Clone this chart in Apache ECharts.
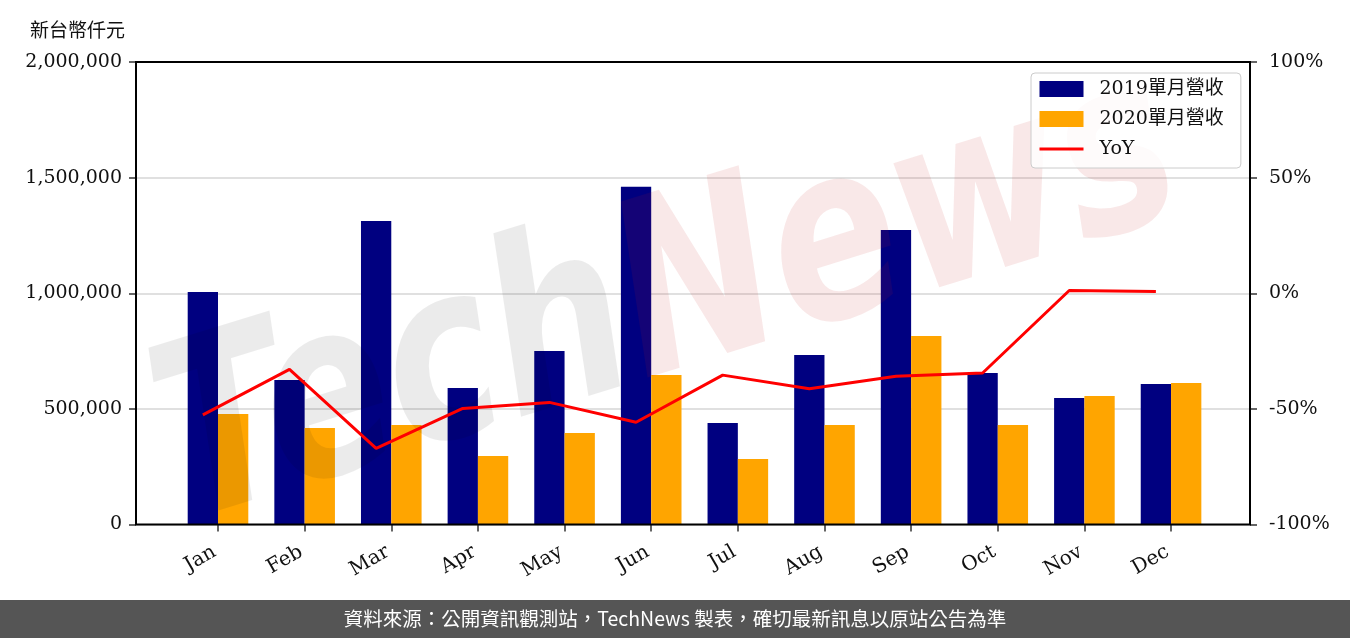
<!DOCTYPE html>
<html>
<head>
<meta charset="utf-8">
<script src="https://cdn.jsdelivr.net/npm/echarts@6/dist/echarts.min.js"></script>
<style>
html,body{margin:0;padding:0;background:#fff;}
#chart{width:1350px;height:638px;}
</style>
</head>
<body>
<div id="chart"></div>
<script>
const months = ['Jan','Feb','Mar','Apr','May','Jun','Jul','Aug','Sep','Oct','Nov','Dec'];
const rev2019 = [1005000, 625000, 1312000, 590000, 750000, 1461000, 439000, 733000, 1273000, 655000, 547000, 608000];
const rev2020 = [478000, 417000, 430000, 296000, 396000, 646000, 283000, 430000, 815000, 430000, 556000, 612000];
const yoy = [-52.6, -32.9, -67.1, -49.8, -47.2, -55.8, -35.4, -41.3, -35.9, -34.5, 1.2, 0.8];
const leftTicks = [0, 500000, 1000000, 1500000, 2000000];
const rightTicks = [-100, -50, 0, 50, 100];
const unitLabel = '新台幣仟元';
const seriesNames = ['2019單月營收', '2020單月營收', 'YoY'];
const footerText = '資料來源：公開資訊觀測站，TechNews 製表，確切最新訊息以原站公告為準';

const SERIF = '"DejaVu Serif", "Noto Sans CJK TC", serif';
const CJK = '"Noto Sans CJK TC", sans-serif';

const chart = echarts.init(document.getElementById('chart'));

// plot frame geometry
const frame = {left: 136, right: 100, top: 62, bottom: 113.5};
const step = 86.64;           // category spacing in px
const firstCenter = 218;      // x of first category centre
const barW = 30.3;
const catLeft = firstCenter - step / 2;
const catRight = 1350 - (catLeft + step * months.length);

const option = {
  backgroundColor: '#ffffff',
  animation: false,
  title: {
    text: unitLabel,
    left: 25, top: 15,
    textStyle: {fontFamily: CJK, fontSize: 19, fontWeight: 'normal', color: '#111'}
  },
  legend: {
    orient: 'vertical',
    left: 1031, top: 73,
    itemWidth: 44, itemHeight: 16, itemGap: 10,
    padding: [6, 17, 9, 7],
    backgroundColor: 'rgba(255,255,255,0.8)',
    borderColor: '#cccccc', borderWidth: 1, borderRadius: 4,
    z: 20,
    textStyle: {fontFamily: SERIF, fontSize: 19, color: '#111', lineHeight: 20, padding: [0, 0, 0, 11]},
    data: [
      {name: seriesNames[0], icon: 'rect'},
      {name: seriesNames[1], icon: 'rect'},
      {name: seriesNames[2], itemStyle: {opacity: 0}, lineStyle: {width: 3, opacity: 1}}
    ]
  },
  grid: [
    {left: frame.left, right: frame.right, top: frame.top, bottom: frame.bottom,
     show: true, borderColor: '#000', borderWidth: 2, backgroundColor: 'transparent', z: 3},
    {left: catLeft, right: catRight, top: frame.top, bottom: frame.bottom},
    {left: catLeft - barW / 2, right: catRight + barW / 2, top: frame.top, bottom: frame.bottom}
  ],
  xAxis: [
    {gridIndex: 0, type: 'value', min: 0, max: 1, show: false},
    {gridIndex: 1, type: 'category', data: months, boundaryGap: true,
     axisLine: {show: false},
     axisTick: {show: true, alignWithLabel: true, length: 7, lineStyle: {color: '#333', width: 1.5}},
     axisLabel: {rotate: 30, margin: 24, fontFamily: SERIF, fontSize: 20, color: '#111', padding: [0, 4, 0, 0]}},
    {gridIndex: 2, type: 'category', data: months, boundaryGap: true, show: false}
  ],
  yAxis: [
    {gridIndex: 0, type: 'value', position: 'left', min: 0, max: 2000000, interval: 500000,
     axisLine: {show: false},
     axisTick: {show: true, length: 7, lineStyle: {color: '#333', width: 1.5}},
     axisLabel: {margin: 14, fontFamily: SERIF, fontSize: 19, color: '#111',
       formatter: v => leftTicks.includes(v) ? v.toLocaleString('en-US') : ''},
     splitLine: {show: true, lineStyle: {color: '#d6d6d6', width: 1.5}}},
    {gridIndex: 0, type: 'value', position: 'right', min: -100, max: 100, interval: 50,
     axisLine: {show: false},
     axisTick: {show: true, length: 7, lineStyle: {color: '#333', width: 1.5}},
     axisLabel: {margin: 19, fontFamily: SERIF, fontSize: 19, color: '#111',
       formatter: v => rightTicks.includes(v) ? v + '%' : ''},
     splitLine: {show: false}},
    {gridIndex: 1, type: 'value', min: 0, max: 2000000, show: false, splitLine: {show: false}},
    {gridIndex: 2, type: 'value', min: -100, max: 100, show: false, splitLine: {show: false}}
  ],
  series: [
    {name: seriesNames[0], type: 'bar', xAxisIndex: 1, yAxisIndex: 2, data: rev2019,
     barWidth: barW, barGap: '0%', itemStyle: {color: '#000080'}, z: 2},
    {name: seriesNames[1], type: 'bar', xAxisIndex: 1, yAxisIndex: 2, data: rev2020,
     barWidth: barW, barGap: '0%', itemStyle: {color: '#FFA500'}, z: 2},
    {name: seriesNames[2], type: 'line', xAxisIndex: 2, yAxisIndex: 3, data: yoy,
     symbol: 'none', showSymbol: false, lineStyle: {color: '#FF0000', width: 3},
     itemStyle: {color: '#FF0000'}, z: 10}
  ],
  graphic: [
    {type: 'text', silent: true, z: 5, x: 670, y: 305, rotation: 0.3, scaleX: 0.82, scaleY: 1.05,
     style: {
       text: '{a|Tech}{b|News}',
       align: 'center', verticalAlign: 'middle',
       textAlign: 'center', textVerticalAlign: 'middle',
       font: 'italic bold 230px "DejaVu Sans"',
       rich: {
         a: {fill: 'rgba(0,0,0,0.08)', fontSize: 230, fontFamily: 'DejaVu Sans', fontWeight: 'bold', fontStyle: 'italic'},
         b: {fill: 'rgba(200,30,30,0.1)', fontSize: 230, fontFamily: 'DejaVu Sans', fontWeight: 'bold', fontStyle: 'italic'}
       }
     }},
    {type: 'rect', silent: true, z: 50, x: 0, y: 600, shape: {width: 1350, height: 38}, style: {fill: '#555555'}},
    {type: 'text', silent: true, z: 51, x: 675, y: 619,
     style: {text: footerText, fill: '#ffffff', font: '19.5px "Noto Sans CJK TC"',
       align: 'center', verticalAlign: 'middle', textAlign: 'center', textVerticalAlign: 'middle'}}
  ]
};
chart.setOption(option);
</script>
</body>
</html>
